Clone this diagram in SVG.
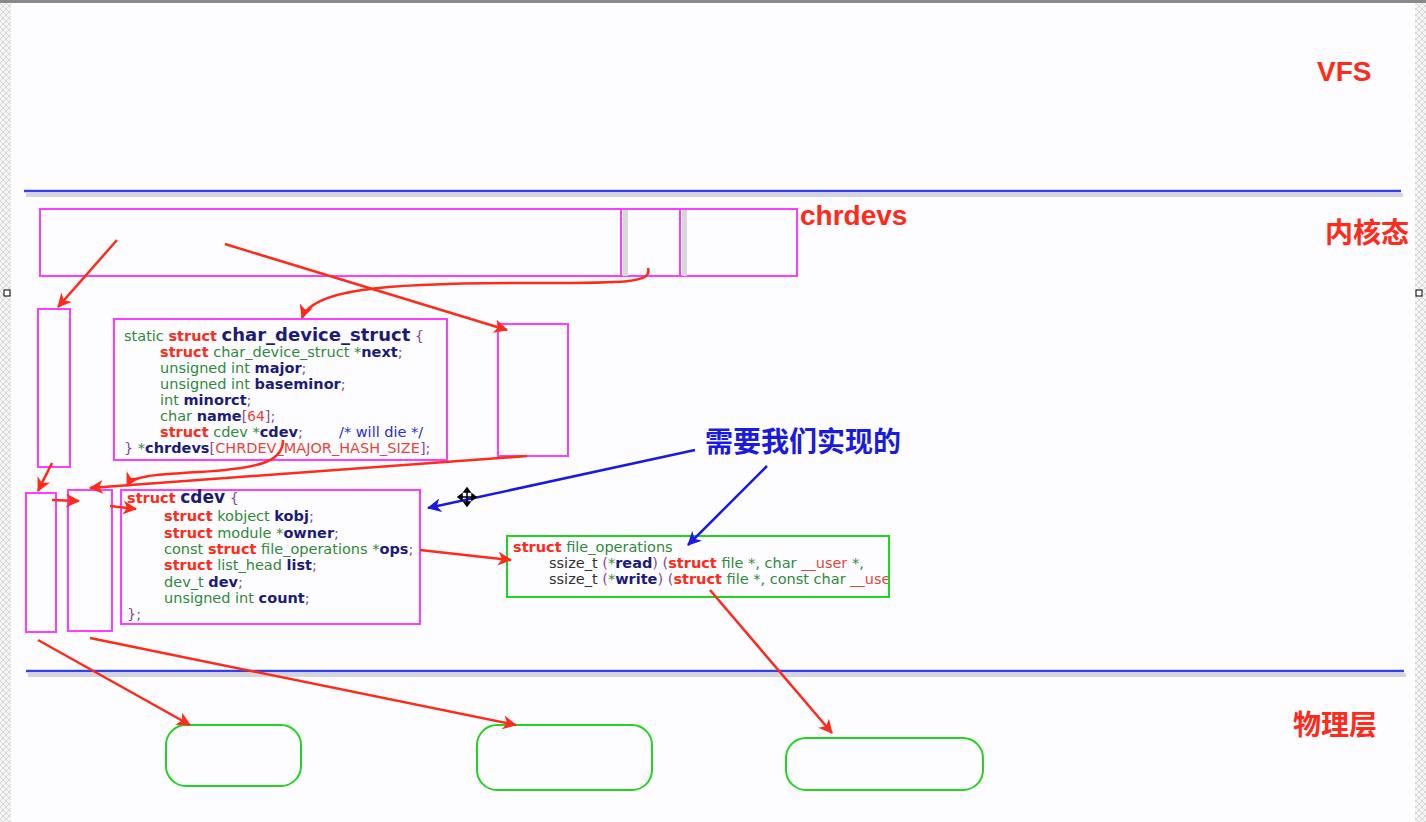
<svg xmlns="http://www.w3.org/2000/svg" width="1426" height="822" viewBox="0 0 1426 822">
<defs>
<style>
.code{font-family:"DejaVu Sans","Verdana",sans-serif;font-size:14.5px;}
.g{fill:#2f8a3c;}
.k{fill:#ff2a1a;font-weight:bold;}
.n{fill:#1c1c78;font-weight:bold;}
.p{fill:#8a4a9a;}
.m{fill:#e8453a;}
.c{fill:#2b2bd8;}
.d{fill:#333333;}
.mag{fill:none;stroke:#ff3cff;stroke-width:2;}
.grn{fill:none;stroke:#22d422;stroke-width:2;}
.lbl{font-family:"Liberation Sans","Noto Sans CJK SC",sans-serif;font-size:28px;fill:#ff2a1a;}
.ra{fill:none;stroke:#ff2a1a;stroke-width:2.5;marker-end:url(#ah);}
.ba{fill:none;stroke:#1a1ae0;stroke-width:2.5;marker-end:url(#bh);}
</style>
<marker id="ah" markerUnits="userSpaceOnUse" markerWidth="16" markerHeight="14" refX="13" refY="7" orient="auto">
<path d="M0,0 L14,7 L0,14 L4,7 z" fill="#ff2a1a"/>
</marker>
<marker id="bh" markerUnits="userSpaceOnUse" markerWidth="16" markerHeight="14" refX="13" refY="7" orient="auto">
<path d="M0,0 L14,7 L0,14 L4,7 z" fill="#1a1ae0"/>
</marker>
<pattern id="chk" width="6" height="6" patternUnits="userSpaceOnUse">
<rect width="6" height="6" fill="#f4f4f4"/>
<path d="M0,3 L3,0 L6,3 L3,6 z" fill="none" stroke="#cfcfcf" stroke-width="0.8"/>
</pattern>
<clipPath id="foclip"><rect x="508" y="537" width="380" height="59"/></clipPath>
</defs>

<rect width="1426" height="822" fill="#fdfdff"/>
<rect x="0" y="0" width="11" height="822" fill="url(#chk)"/>
<rect x="1415" y="0" width="11" height="822" fill="url(#chk)"/>
<rect x="0" y="0" width="1426" height="3" fill="#8a8a8a"/>
<rect x="4" y="290" width="6" height="6" fill="#fff" stroke="#000" stroke-width="1"/>
<rect x="1416" y="290" width="6" height="6" fill="#fff" stroke="#000" stroke-width="1"/>

<g id="layers">
<line x1="26" y1="195" x2="1403" y2="195" stroke="#d6d6d6" stroke-width="4"/>
<line x1="24" y1="191" x2="1401" y2="191" stroke="#3340ee" stroke-width="2.5"/>
<line x1="28" y1="675" x2="1406" y2="675" stroke="#d6d6d6" stroke-width="4"/>
<line x1="26" y1="671" x2="1404" y2="671" stroke="#3340ee" stroke-width="2.5"/>
<text class="lbl" x="1317" y="81" font-weight="bold">VFS</text>
<text class="lbl" x="1325" y="243" font-weight="bold">内核态</text>
<text class="lbl" x="1293" y="735" font-weight="bold">物理层</text>
</g>

<g id="chrdevs">
<rect class="mag" x="40" y="209" width="757" height="67"/>
<rect x="623" y="210" width="5" height="66" fill="#d8d8d8"/>
<rect x="682" y="210" width="5" height="66" fill="#d8d8d8"/>
<line x1="621" y1="209" x2="621" y2="276" stroke="#ff3cff" stroke-width="2"/>
<line x1="680" y1="209" x2="680" y2="276" stroke="#ff3cff" stroke-width="2"/>
<text class="lbl" x="800" y="225" font-weight="bold">chrdevs</text>
</g>

<g id="boxA"><rect class="mag" x="38" y="309" width="32" height="158"/></g>
<g id="boxB"><rect class="mag" x="498" y="324" width="70" height="132"/></g>
<g id="boxC"><rect class="mag" x="26" y="493" width="30" height="139"/></g>
<g id="boxD"><rect class="mag" x="68" y="490" width="44" height="141"/></g>

<g id="char_device_struct">
<rect class="mag" x="114" y="319" width="333" height="141" fill="#fff"/>
<text class="code" x="124" y="341"><tspan class="g">static </tspan><tspan class="k">struct</tspan><tspan> </tspan><tspan class="n" font-size="18">char_device_struct</tspan><tspan class="p"> {</tspan></text>
<text class="code" x="160" y="357"><tspan class="k">struct</tspan><tspan class="g"> char_device_struct *</tspan><tspan class="n">next</tspan><tspan class="p">;</tspan></text>
<text class="code" x="160" y="373"><tspan class="g">unsigned int </tspan><tspan class="n">major</tspan><tspan class="p">;</tspan></text>
<text class="code" x="160" y="389"><tspan class="g">unsigned int </tspan><tspan class="n">baseminor</tspan><tspan class="p">;</tspan></text>
<text class="code" x="160" y="405"><tspan class="g">int </tspan><tspan class="n">minorct</tspan><tspan class="p">;</tspan></text>
<text class="code" x="160" y="421"><tspan class="g">char </tspan><tspan class="n">name</tspan><tspan class="p">[</tspan><tspan class="m" font-family="DejaVu Sans Mono,monospace">64</tspan><tspan class="p">];</tspan></text>
<text class="code" x="160" y="437"><tspan class="k">struct</tspan><tspan class="g"> cdev *</tspan><tspan class="n">cdev</tspan><tspan class="p">;</tspan></text>
<text class="code c" x="339" y="437">/* will die */</text>
<text class="code" x="124" y="453"><tspan class="p">}</tspan><tspan class="g"> *</tspan><tspan class="n">chrdevs</tspan><tspan class="p">[</tspan><tspan class="m">CHRDEV_MAJOR_HASH_SIZE</tspan><tspan class="p">];</tspan></text>
</g>

<g id="cdev">
<rect class="mag" x="121" y="490" width="299" height="134" fill="#fff"/>
<text class="code" x="127" y="503"><tspan class="k">struct</tspan><tspan> </tspan><tspan class="n" font-size="17">cdev</tspan><tspan class="p"> {</tspan></text>
<text class="code" x="164" y="521"><tspan class="k">struct</tspan><tspan class="g"> kobject </tspan><tspan class="n">kobj</tspan><tspan class="p">;</tspan></text>
<text class="code" x="164" y="538"><tspan class="k">struct</tspan><tspan class="g"> module *</tspan><tspan class="n">owner</tspan><tspan class="p">;</tspan></text>
<text class="code" x="164" y="554"><tspan class="g">const </tspan><tspan class="k">struct</tspan><tspan class="g"> file_operations *</tspan><tspan class="n">ops</tspan><tspan class="p">;</tspan></text>
<text class="code" x="164" y="570"><tspan class="k">struct</tspan><tspan class="g"> list_head </tspan><tspan class="n">list</tspan><tspan class="p">;</tspan></text>
<text class="code" x="164" y="587"><tspan class="g">dev_t </tspan><tspan class="n">dev</tspan><tspan class="p">;</tspan></text>
<text class="code" x="164" y="603"><tspan class="g">unsigned int </tspan><tspan class="n">count</tspan><tspan class="p">;</tspan></text>
<text class="code p" x="127" y="619">};</text>
</g>

<g id="file_operations">
<rect class="grn" x="507" y="536" width="382" height="61" fill="#fff"/>
<g clip-path="url(#foclip)">
<text class="code" x="513" y="552"><tspan class="k">struct</tspan><tspan class="g"> file_operations</tspan></text>
<text class="code" x="549" y="568"><tspan class="d">ssize_t </tspan><tspan class="p">(</tspan><tspan class="g">*</tspan><tspan class="n">read</tspan><tspan class="p">) (</tspan><tspan class="k">struct</tspan><tspan class="g"> file *, char </tspan><tspan class="m">__user</tspan><tspan class="g"> *,</tspan></text>
<text class="code" x="549" y="584"><tspan class="d">ssize_t </tspan><tspan class="p">(</tspan><tspan class="g">*</tspan><tspan class="n">write</tspan><tspan class="p">) (</tspan><tspan class="k">struct</tspan><tspan class="g"> file *, const char </tspan><tspan class="m">__user</tspan></text>
</g>
</g>

<g id="note">
<text x="705" y="452" font-family="Liberation Sans,Noto Sans CJK SC,sans-serif" font-size="28" font-weight="bold" fill="#1a1ae0">需要我们实现的</text>
</g>

<g id="hw1"><rect class="grn" x="166" y="725" width="135" height="61" rx="20"/></g>
<g id="hw2"><rect class="grn" x="477" y="725" width="175" height="65" rx="20"/></g>
<g id="hw3"><rect class="grn" x="786" y="738" width="197" height="52" rx="20"/></g>

<g id="connectors">
<path class="ra" d="M117,240 L58,307"/>
<path class="ra" d="M225,244 L507,330"/>
<path class="ra" d="M648,268 C653,284 620,283 520,283 C380,283 312,290 302,318"/>
<path class="ra" d="M52,463 L38,491"/>
<path class="ra" d="M283,440 C283,460 265,468 200,472 C150,475 132,476 127,486"/>
<path class="ra" d="M527,456 L90,488"/>
<path class="ra" d="M52,500 L79,501"/>
<path class="ra" d="M110,506 L136,509"/>
<path class="ra" d="M420,550 L511,560"/>
<path class="ra" d="M710,590 L832,733"/>
<path class="ra" d="M38,640 L190,725"/>
<path class="ra" d="M90,638 L516,725"/>
<path class="ba" d="M695,450 L428,508"/>
<path class="ba" d="M767,466 L688,545"/>
</g>

<g id="cursor" stroke="#000" stroke-width="1.5" fill="#000">
<line x1="467" y1="490" x2="467" y2="505"/>
<line x1="460" y1="497" x2="474" y2="497"/>
<path d="M467,488 L464,492 L470,492 z M467,506 L464,502 L470,502 z M458,497 L462,494 L462,500 z M476,497 L472,494 L472,500 z"/>
</g>
</svg>
